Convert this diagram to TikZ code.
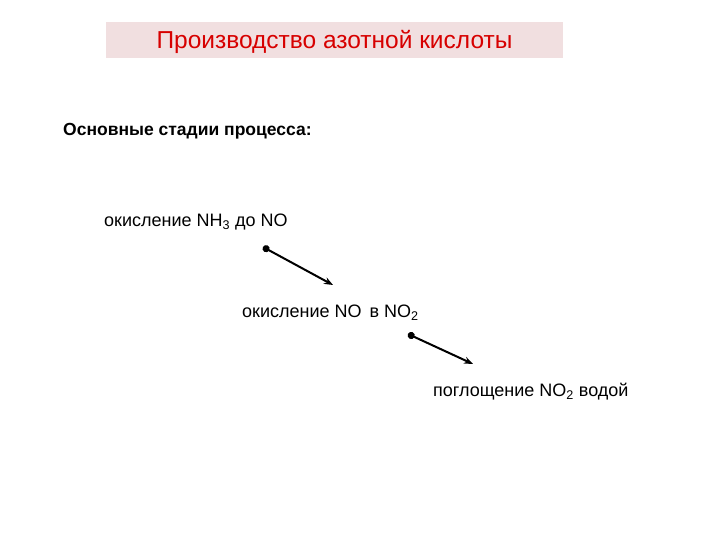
\documentclass[tikz,border=0pt]{standalone}
\usepackage{fontspec}
\setmainfont{Liberation Sans}
\usetikzlibrary{arrows.meta, positioning}
\definecolor{titlepink}{RGB}{241,223,224}
\definecolor{titlered}{RGB}{215,0,0}
\tikzset{
  stage/.style={anchor=west, inner sep=0pt, font=\fontsize{18}{21}\selectfont},
  stagearrow/.style={line width=2pt, {Circle[length=7pt]}-{Stealth[length=9pt,width=7pt]}}
}

\begin{document}
\begin{tikzpicture}[x=1pt, y=-1pt]
\useasboundingbox (0,0) rectangle (720,540);
\fill[titlepink] (106,22) rectangle (563,58);
\node[text=titlered, font=\fontsize{24.5}{28}\selectfont] (title) at (334.5,42) {Производство азотной кислоты};

\node[anchor=west, inner sep=0pt, font=\bfseries\fontsize{17.5}{21}\selectfont] (stages) at (63,131) {Основные стадии процесса:};

\node[stage] (ox1) at (104,222) {окисление NH\textsubscript{3} до NO};
\node[stage] (ox2) at (242,313) {окисление NO\, в NO\textsubscript{2}};
\node[stage] (abs) at (433,392) {поглощение NO\textsubscript{2} водой};

\coordinate (a1) at (263,247);
\coordinate (b1) at (333,285);
\coordinate (a2) at (408,334);
\coordinate (b2) at (473,364);
\draw[stagearrow] (a1) -- (b1);
\draw[stagearrow] (a2) -- (b2);
\end{tikzpicture}
\end{document}
